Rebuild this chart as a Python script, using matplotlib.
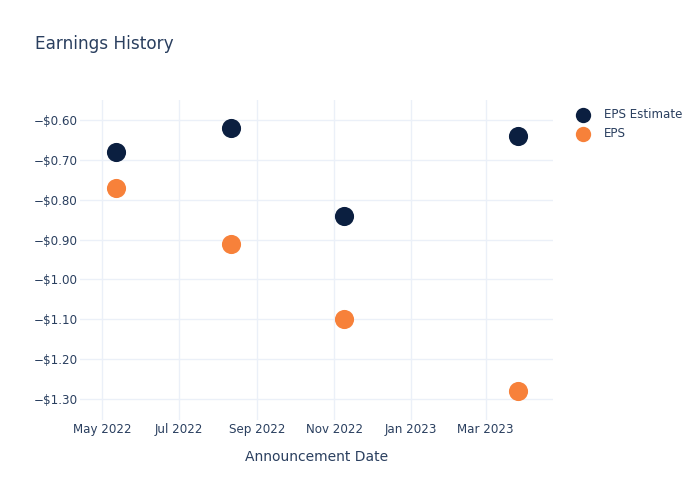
import numpy as np
import pandas as pd
import matplotlib
matplotlib.use("Agg")
import matplotlib.pyplot as plt
import matplotlib.dates as mdates
from matplotlib.ticker import FuncFormatter

# Data
dates = pd.to_datetime(["2022-05-12", "2022-08-11", "2022-11-09", "2023-03-27"])
eps_estimate = [-0.68, -0.62, -0.84, -0.64]
eps_actual = [-0.77, -0.91, -1.10, -1.28]

text_col = "#2a3f5f"
grid_col = "#ebf0f8"

fig = plt.figure(figsize=(7, 5), dpi=100)
ax = fig.add_axes([80 / 700, 1 - 420 / 500, 473 / 700, 320 / 500])

ax.scatter(dates, eps_estimate, s=190, color="#0b1f40", label="EPS Estimate", zorder=3, linewidths=0)
ax.scatter(dates, eps_actual, s=190, color="#f7813a", label="EPS", zorder=3, linewidths=0)

ax.set_xlim(pd.Timestamp("2022-04-13 12:00"), pd.Timestamp("2023-04-23 12:00"))
ax.set_ylim(-1.3527, -0.5498)
ax.set_yticks(np.arange(-1.3, -0.55, 0.1))
ax.yaxis.set_major_formatter(FuncFormatter(lambda v, p: "\u2212$%.2f" % abs(v)))

ax.xaxis.set_major_locator(mdates.MonthLocator(bymonth=[1, 3, 5, 7, 9, 11]))
ax.xaxis.set_major_formatter(mdates.DateFormatter("%b %Y"))

for s in ax.spines.values():
    s.set_visible(False)
ax.grid(True, color=grid_col, linewidth=1)
ax.set_axisbelow(True)
ax.tick_params(length=0, labelsize=8.6, colors=text_col)
ax.tick_params(axis="y", pad=1.5)
ax.tick_params(axis="x", pad=2)

ax.set_xlabel("Announcement Date", fontsize=10, color=text_col, labelpad=10)
fig.text(35 / 700, 1 - 44 / 500, "Earnings History", fontsize=12.2, color=text_col, va="center")

leg = ax.legend(loc="upper left", bbox_to_anchor=(1.02, 1.0), frameon=False,
                fontsize=8.6, labelcolor=text_col, handletextpad=0.75,
                labelspacing=0.45, borderaxespad=0.3, markerscale=0.8)

fig.savefig("out.png", dpi=100)
